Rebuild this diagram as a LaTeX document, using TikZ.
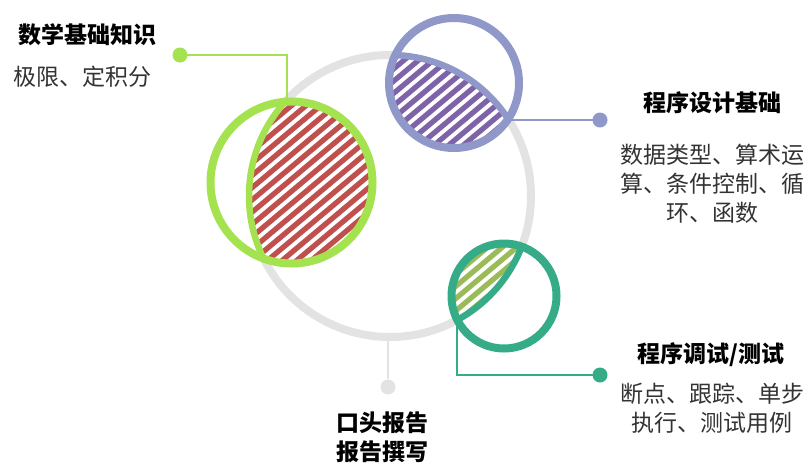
\documentclass[tikz,border=0pt]{standalone}
\usepackage{fontspec}
\setmainfont{Noto Sans CJK SC}
\definecolor{cgray}{HTML}{E3E3E3}
\definecolor{cgreen}{HTML}{A4E24F}
\definecolor{cred}{HTML}{C0504D}
\definecolor{cpurple}{HTML}{8F98C9}
\definecolor{cpurplefill}{HTML}{7E63A8}
\definecolor{cteal}{HTML}{35AC87}
\definecolor{colive}{HTML}{9BBB59}
\definecolor{ctext}{HTML}{333333}
\tikzset{
  title/.style={font=\fontsize{23}{29}\selectfont\bfseries, text=black, align=center, inner sep=0pt},
  body/.style={font=\fontsize{23}{29}\selectfont, text=ctext, align=center, inner sep=0pt},
  conn/.style={line width=2pt},
  dotstyle/.style={circle, inner sep=0pt, minimum size=15pt},
}
\begin{document}
\begin{tikzpicture}[x=1pt,y=-1pt]
\useasboundingbox (0,0) rectangle (805,464);
% big gray circle
\coordinate (G) at (390,196);
\def\GR{141}
\draw[cgray, line width=8pt] (G) circle (\GR);
% gray connector
\node[dotstyle, fill=cgray] (gdot) at (388,387) {};
\coordinate (gtop) at (388,337);
\draw[cgray, conn] (gtop) -- (gdot);

% macro for a small circle
\newcommand{\smallcirc}[5]{% center, radius, stroke colour, hatch colour
  \fill[white] #1 circle (#2);
  \begin{scope}
    \clip #1 circle (#2);
    \clip (G) circle (\GR);
    \fill[#4] #1 circle (#2);
    \foreach \i in {-600,-585.4,...,900}
      \draw[white, line width=3.8pt] (\i,480) -- ++(572,-480);
  \end{scope}
  \begin{scope}
    \clip #1 circle (#2);
    \draw[#3, line width=6.5pt] (G) circle (\GR);
  \end{scope}
  \draw[#3, line width=8pt] #1 circle (#2);
}
\smallcirc{(291.5,182.5)}{81}{cgreen}{cred}{}
\smallcirc{(454,83)}{65}{cpurple}{cpurplefill}{}
\smallcirc{(504,296)}{52.5}{cteal}{colive}{}

% connectors
\node[dotstyle, fill=cgreen] (d1) at (180,55) {};
\coordinate (c1) at (287,101);
\draw[cgreen, conn] (d1.center) -| (c1);

\node[dotstyle, fill=cpurple] (d2) at (600,120) {};
\coordinate (c2) at (507,120);
\draw[cpurple, conn] (c2) -- (d2.center);

\node[dotstyle, fill=cteal] (d3) at (600,375) {};
\coordinate (c3) at (457,318);
\draw[cteal, conn] (c3) |- (d3.center);

% texts
\node[title] (t1) at (87,35) {数学基础知识};
\node[body] (b1) at (82,77) {极限、定积分};
\node[title] (t2) at (712,103) {程序设计基础};
\node[body] (b2) at (712,184) {数据类型、算术运\\算、条件控制、循\\环、函数};
\node[title] (t3) at (711,355) {程序调试/测试};
\node[body] (b3) at (712,408) {断点、跟踪、单步\\执行、测试用例};
\node[title] (t4) at (382,437.5) {口头报告\\报告撰写};
\end{tikzpicture}
\end{document}
